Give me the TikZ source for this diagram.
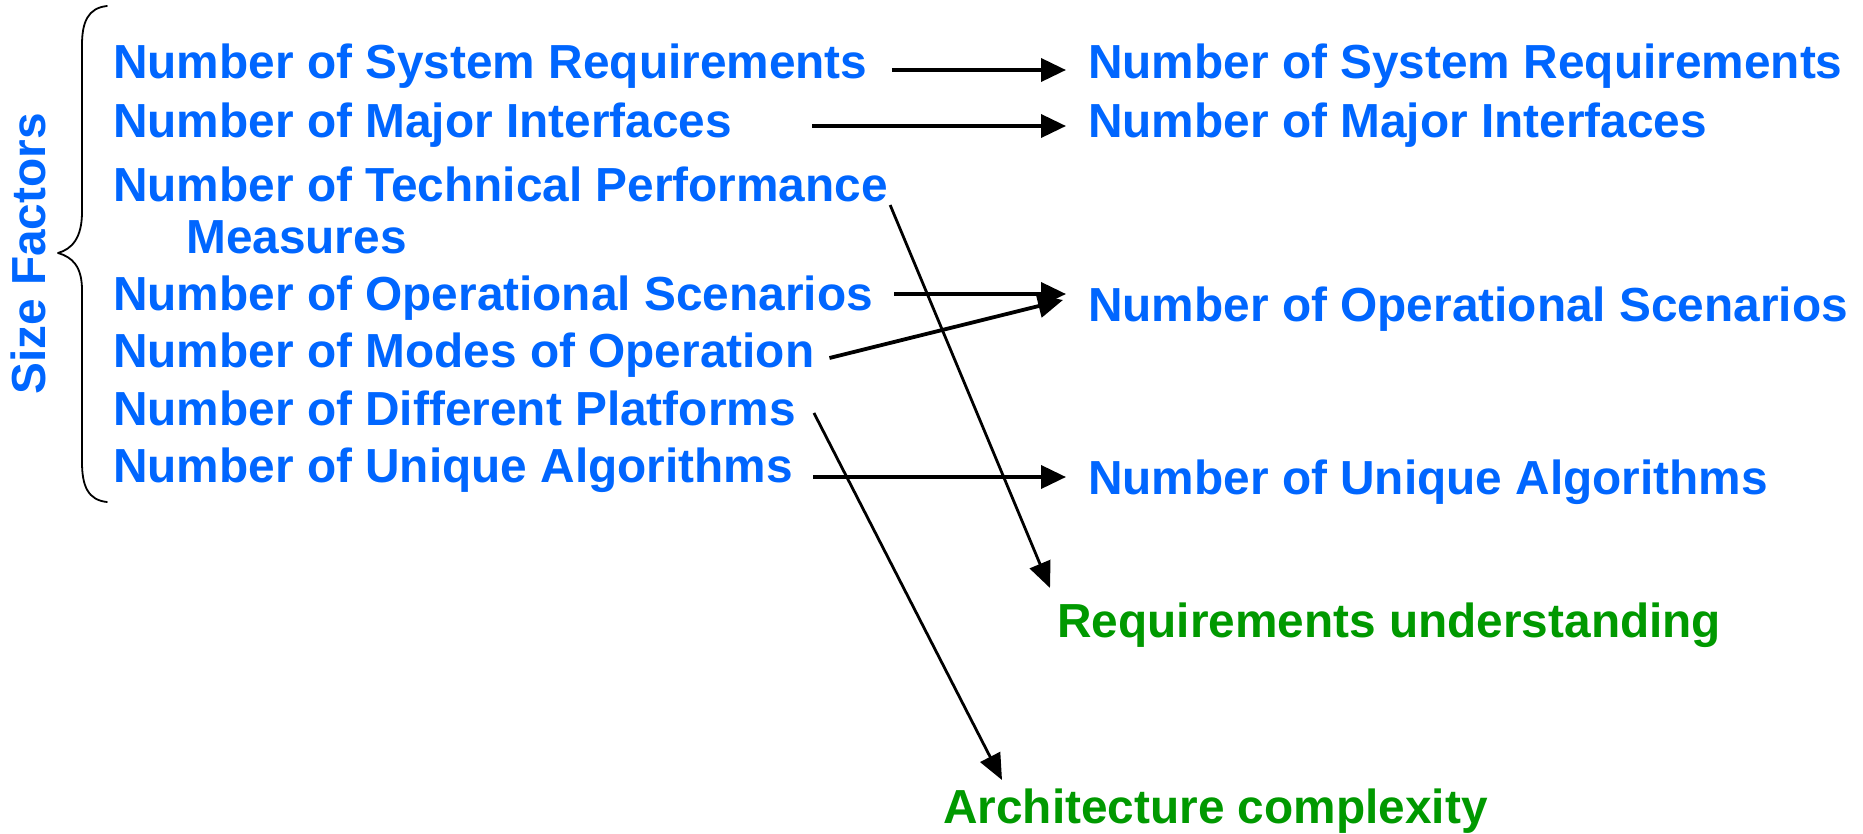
\documentclass[tikz,border=0pt]{standalone}
\usepackage{fontspec}
\setmainfont{Liberation Sans}
\usetikzlibrary{arrows.meta,calc}
\definecolor{factorblue}{RGB}{0,102,255}
\definecolor{drivergreen}{RGB}{0,153,0}
\begin{document}
\begin{tikzpicture}[x=1pt,y=-1pt,
  lbl/.style={anchor=base west,inner sep=0pt,
    font=\fontsize{47.8}{57}\selectfont\bfseries,text=factorblue},
  glbl/.style={lbl,text=drivergreen},
  heavy/.style={line width=3.8pt,-{Triangle[length=25pt,width=23pt]}},
  light/.style={line width=2.8pt,-{Triangle[length=26pt,width=22pt]}},
  bracepath/.style={line width=1.8pt,line cap=round,line join=round},
]
\useasboundingbox (0,0) rectangle (1863,833);

% vertical heading and its brace
\node[lbl,anchor=base,rotate=90] (sf) at (45,254) {Size Factors};
\draw[bracepath] (107,6) .. controls (88,8) and (82,22) .. (82,45)
  -- (82,212) .. controls (82,238) and (72,249) .. (58,253)
  .. controls (72,257) and (82,266) .. (82,290)
  -- (82,462) .. controls (82,486) and (88,500) .. (107,502);

% size factors
\node[lbl] (l1) at (113,78)  {Number of System Requirements};
\node[lbl] (l2) at (113,137) {Number of Major Interfaces};
\node[lbl] (l3) at (113,201) {Number of Technical Performance};
\node[lbl] (lm) at (186,253) {Measures};
\node[lbl] (l4) at (113,310) {Number of Operational Scenarios};
\node[lbl] (l5) at (113,367) {Number of Modes of Operation};
\node[lbl] (l6) at (113,425) {Number of Different Platforms};
\node[lbl] (l7) at (113,482) {Number of Unique Algorithms};

% mapped factors
\node[lbl] (r1) at (1088,78)  {Number of System Requirements};
\node[lbl] (r2) at (1088,137) {Number of Major Interfaces};
\node[lbl] (r4) at (1088,321) {Number of Operational Scenarios};
\node[lbl] (r7) at (1088,494) {Number of Unique Algorithms};

% cost drivers
\node[glbl] (gu) at (1057,637) {Requirements understanding};
\node[glbl] (ga) at (943,823)  {Architecture complexity};

% mappings
\draw[heavy] ($(l1.base east)+(24,-8)$)  -- ($(r1.base west)+(-22,-8)$);
\draw[heavy] ($(l2.base east)+(80,-11)$) -- ($(r2.base west)+(-22,-11)$);
\draw[light] ($(l3.base east)+(2,4)$)    -- ($(gu.base west)+(-7,-49)$);
\draw[heavy] ($(l4.base east)+(21,-16)$) -- ($(r4.base west)+(-22,-27)$);
\draw[heavy] ($(l5.base east)+(15,-9)$)  -- ($(r4.base west)+(-25,-21)$);
\draw[light] ($(l6.base east)+(18,-12)$) -- ($(ga.base west)+(59,-43)$);
\draw[heavy] ($(l7.base east)+(20,-5)$)  -- ($(r7.base west)+(-22,-17)$);
\end{tikzpicture}
\end{document}
